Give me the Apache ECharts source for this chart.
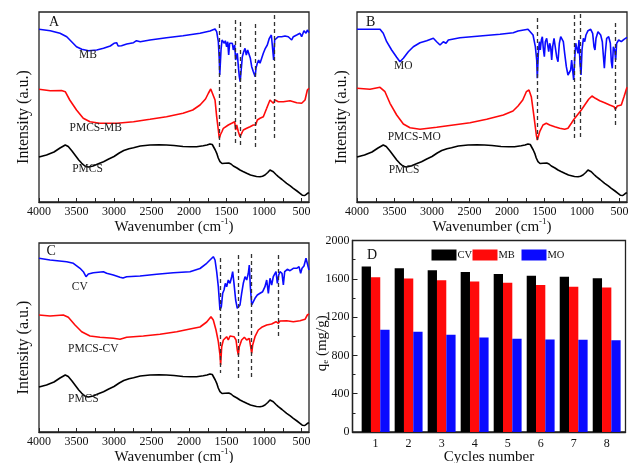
<!DOCTYPE html>
<html><head><meta charset="utf-8">
<script src="https://cdn.jsdelivr.net/npm/echarts@6/dist/echarts.min.js"></script>
<style>html,body{margin:0;padding:0;background:#fff}#c{width:629px;height:463px}</style>
</head><body><div id="c"></div>
<script>
// ---------- DATA ----------
const xLabelValues = [500, 1000, 1500, 2000, 2500, 3000, 3500, 4000];
const xTickValues = [500, 750, 1000, 1250, 1500, 1750, 2000, 2250, 2500, 2750, 3000, 3250, 3500, 3750, 4000];

const PMCS = [[4000,45],[3900,47],[3800,50],[3720,54],[3650,57],[3610,55.5],[3560,51],[3520,47],[3470,42],[3430,38.7],[3380,35.5],[3340,35],[3280,36],[3200,38.5],[3140,40.3],[3070,43],[3000,45.5],[2930,49],[2870,51.5],[2800,53.3],[2740,54.3],[2650,56],[2520,57],[2400,57.2],[2300,57],[2200,56.5],[2080,55.5],[1980,55.2],[1900,55.3],[1810,56.3],[1760,57],[1720,58],[1690,57.5],[1670,56],[1650,52],[1630,48.7],[1610,44],[1587,40.3],[1560,38.5],[1542,38],[1520,38.8],[1498,39.3],[1470,39],[1440,38],[1409,36],[1360,34],[1320,32],[1280,30.5],[1231,28.7],[1180,27],[1142,26.3],[1100,25.5],[1053,25.3],[1020,25.8],[987,27],[950,29.5],[920,32],[895,31.5],[876,30.3],[840,27.5],[809,25.3],[760,22.5],[698,18.7],[650,16.2],[609,13.7],[560,11],[520,8.7],[490,6.8],[476,6],[455,6.5],[440,8],[420,8.7],[400,9.3]];

const MB = [[4000,172.7],[3850,171.3],[3720,168.7],[3630,165.3],[3565,160.3],[3500,155.3],[3430,152.7],[3340,151.3],[3230,152],[3140,153.7],[3050,156],[3000,158.7],[2965,159.3],[2945,156],[2933,155.3],[2900,156.3],[2830,158],[2740,159.3],[2700,161.3],[2680,160],[2650,160.3],[2520,162],[2300,164.3],[2080,166.3],[1853,168.7],[1720,171],[1653,173],[1631,170.3],[1609,160.3],[1596,142],[1590,127],[1573,152],[1560,162],[1542,163.7],[1529,158.7],[1516,161.3],[1498,155.3],[1484,160.3],[1471,147],[1458,158.7],[1440,157],[1422,158.7],[1409,152],[1391,157],[1378,142],[1356,148.7],[1342,135.3],[1329,125.3],[1318,120.3],[1302,133.7],[1289,145.3],[1271,150.3],[1253,153.7],[1236,147],[1218,152],[1200,152.7],[1182,143.7],[1164,135.3],[1142,130.3],[1118,125.3],[1107,133.7],[1089,138.7],[1071,142],[1053,138.7],[1031,143.7],[1009,148.7],[982,153.7],[956,157],[929,163.7],[902,167],[884,168.7],[871,142],[858,162],[840,163.7],[809,165.3],[764,165.3],[720,166],[676,165.3],[653,167],[631,162],[609,165.3],[564,167],[520,168.7],[498,165.3],[467,171.3],[440,168.7],[422,172],[400,169.3]];

const PMCS_MB = [[4000,112.7],[3850,111.3],[3700,111.5],[3650,110.3],[3590,102],[3500,92],[3410,83.7],[3320,80.3],[3190,78.7],[2960,78.7],[2740,80.3],[2520,82.7],[2300,85.3],[2080,88.7],[1950,92],[1853,97],[1780,103],[1740,109],[1710,113],[1684,112],[1653,102],[1631,85.3],[1609,72],[1596,63.7],[1580,67.5],[1560,70.5],[1542,73.7],[1520,75.3],[1476,77],[1431,78.7],[1409,80.3],[1391,80.3],[1378,72],[1364,77],[1342,70.3],[1320,65.3],[1298,68.7],[1276,72],[1231,73.7],[1187,75.3],[1142,77],[1111,77],[1089,82],[1053,83.7],[1009,85.3],[964,93.7],[920,102],[898,102.7],[876,98.7],[853,102],[809,100.3],[742,100.3],[653,101.3],[564,99.3],[498,98.7],[453,102],[422,112],[400,113.7]];

const MO = [[4000,172.7],[3693,172.7],[3650,168.7],[3604,160.3],[3538,152],[3471,144.7],[3427,140.3],[3382,143.7],[3316,150.3],[3249,155.3],[3160,159.3],[3071,161.3],[2982,163.7],[2938,160.3],[2893,157],[2849,160.3],[2813,158.7],[2782,162],[2627,164.3],[2360,166],[2093,167.7],[1916,169.3],[1853,171],[1720,172.7],[1698,172.7],[1653,167],[1622,155.3],[1604,142],[1596,123.7],[1582,148.7],[1569,160.3],[1556,152],[1542,162],[1529,165.3],[1516,153.7],[1502,145.3],[1489,160.3],[1471,163.7],[1458,157],[1444,150.3],[1431,158.7],[1418,155.3],[1404,142],[1391,155.3],[1373,163.7],[1356,162],[1338,145.3],[1320,140.3],[1302,158.7],[1284,165.3],[1267,166],[1249,160.3],[1231,148.7],[1209,135.3],[1187,127],[1164,125.3],[1151,132],[1138,142],[1125,132],[1111,122],[1098,142],[1084,158.7],[1071,160.3],[1053,148.7],[1040,162],[1027,138.7],[1013,127],[1000,152],[982,163.7],[964,160.3],[947,167],[920,171.3],[884,172.7],[858,168.7],[840,155.3],[827,152],[813,163.7],[787,170.3],[751,167],[729,160.3],[716,147],[702,133.7],[689,148.7],[671,163.7],[644,165.3],[622,158.7],[609,140.3],[596,133.7],[582,155.3],[564,152],[551,142],[538,158.7],[511,162],[476,160.3],[440,162.7],[400,164.7]];

const PMCS_MO = [[4000,113.7],[3827,112.7],[3693,114.7],[3627,110.3],[3560,98.7],[3471,87],[3382,78],[3293,74.3],[3160,72.7],[2938,74.7],[2716,77],[2493,79.3],[2271,82.7],[2049,87],[1920,91],[1853,96],[1790,102],[1742,110.3],[1707,112],[1676,105.3],[1640,85.3],[1609,67],[1596,62],[1564,70.3],[1520,77],[1476,78.7],[1431,77],[1364,75.3],[1298,73.7],[1231,72.7],[1187,73.7],[1142,78.7],[1107,82.7],[1062,87],[1009,92],[964,97],[911,102.7],[867,106],[822,103.7],[764,101.3],[698,99.3],[631,97],[573,95.3],[556,92.7],[529,96],[476,97],[440,105.3],[400,114.7]];

const CV = [[4000,173.7],[3853,172],[3631,170.3],[3542,168.7],[3453,163.7],[3409,160.3],[3373,155.3],[3342,158],[3276,159.3],[3142,160.3],[3098,158.7],[3009,157],[2920,154.7],[2900,156],[2880,154],[2831,155.3],[2653,156],[2431,157.7],[2209,159.3],[1987,160.3],[1853,163.5],[1764,168.7],[1720,172],[1698,173.7],[1676,175.3],[1653,172],[1631,160.3],[1609,145.3],[1587,122],[1569,125.3],[1551,138.7],[1533,142],[1516,148.7],[1498,145.3],[1476,152],[1453,148.7],[1431,155.3],[1418,160.3],[1400,148.7],[1378,132],[1356,123.7],[1338,122],[1320,127],[1298,138.7],[1276,148.7],[1253,155.3],[1231,152],[1209,158.7],[1196,167],[1182,145.3],[1164,127],[1142,128.7],[1120,133.7],[1089,137],[1053,138.7],[1018,140.3],[987,145.3],[964,152],[942,138.7],[920,153.7],[898,147],[876,155.3],[840,160.3],[822,148.7],[804,157],[787,160.3],[760,158.7],[742,147],[724,160.3],[689,162.7],[653,161.3],[609,163.7],[564,163.7],[533,165.3],[511,158.7],[493,163.7],[467,166],[440,173.7],[422,175.3],[400,162]];

const PMCS_CV = [[4000,117],[3853,116],[3676,117],[3609,114.7],[3520,107],[3431,100.3],[3320,96],[3187,94.7],[3009,93.7],[2920,92.7],[2831,94.7],[2609,96],[2387,97.7],[2164,100.3],[1987,103],[1853,105],[1764,110],[1707,115.3],[1676,112],[1640,102],[1609,90.3],[1587,77],[1578,67],[1564,85.3],[1542,92],[1520,90.3],[1498,95.3],[1476,92],[1453,96],[1427,97],[1400,95.3],[1373,92],[1356,82],[1342,77],[1329,85.3],[1298,92],[1262,94.7],[1231,92],[1196,93.7],[1178,85.3],[1164,78.7],[1151,87],[1120,95.3],[1076,102],[1031,104.7],[964,107],[898,108],[840,110.3],[809,108.7],[787,111],[698,111.3],[609,110.3],[520,111.3],[453,112.7],[422,117],[400,118]];

// dashed marker lines: [wavenumber, upper intensity, lower intensity]
const DASH_A = [[1593,178,55],[1378,182,59],[1320,180,57],[1111,178,54],[867,187,64]];
const DASH_B = [[1596,184,62],[1107,187,64],[1018,188,65],[558,179,74]];
const DASH_C = [[1583,174,59],[1347,177,54],[1164,178,55],[809,177,95]];

// bar chart D
const cycles = [1, 2, 3, 4, 5, 6, 7, 8];
const qCV = [1729, 1711, 1690, 1670, 1649, 1631, 1621, 1607];
const qMB = [1617, 1603, 1586, 1572, 1558, 1534, 1517, 1510];
const qMO = [1068, 1047, 1016, 988, 974, 967, 964, 957];

// ---------- STYLE / LAYOUT ----------
const FF = "'Liberation Serif', 'Times New Roman', serif";
const TXT = '#111';
const BLUE = '#0a0aff', RED = '#ff0a0a', BLACK = '#000';
const plain = v => String(v);
const grids = [
  {left: 39, top: 12, width: 270, height: 190},
  {left: 357, top: 12, width: 270, height: 190},
  {left: 39, top: 243, width: 270, height: 189},
  {left: 352.5, top: 240.5, width: 273, height: 191.5}
].map(g => Object.assign(g, {show: true, borderColor: '#222', borderWidth: 1.3, backgroundColor: 'transparent',
  containLabel: false, outerBoundsMode: 'none'}));

const xTitle = {
  name: '{t|Wavenumber (cm}{s|-1}{t|)}',
  nameLocation: 'middle', nameGap: 15.5, nameMoveOverlap: false,
  nameTextStyle: {color: TXT, fontFamily: FF, fontSize: 15,
    rich: {t: {fontSize: 15, fontFamily: FF, color: TXT}, s: {fontSize: 9, fontFamily: FF, color: TXT, padding: [0, 0, 10, 0]}}}
};
function specX(i) {
  return Object.assign({
    type: 'value', gridIndex: i, min: 400, max: 4000, inverse: true,
    axisLine: {show: true, lineStyle: {color: '#222', width: 1.3}},
    axisTick: {show: true, inside: true, length: 4, customValues: xTickValues, lineStyle: {color: '#222', width: 1}},
    axisLabel: {customValues: xLabelValues, formatter: plain, margin: 4, fontSize: 12, fontFamily: FF, color: TXT},
    splitLine: {show: false}
  }, xTitle);
}
function specY(i, max) {
  return {
    type: 'value', gridIndex: i, min: 0, max: max,
    axisLine: {show: false}, axisTick: {show: false}, axisLabel: {show: false}, splitLine: {show: false},
    name: 'Intensity (a.u.)', nameLocation: 'middle', nameGap: 7, nameMoveOverlap: false,
    nameTextStyle: {color: TXT, fontFamily: FF, fontSize: 16, padding: [0, 20, 0, 0]}
  };
}
function line(i, data, color, label, coord) {
  return {
    type: 'line', xAxisIndex: i, yAxisIndex: i, data: data, showSymbol: false, symbol: 'none',
    lineStyle: {color: color, width: 1.6}, itemStyle: {color: color}, silent: true, z: 3,
    markPoint: {symbol: 'circle', symbolSize: 0, silent: true, animation: false,
      itemStyle: {color: 'transparent'},
      label: {show: true, position: 'inside', formatter: label, fontFamily: FF, fontSize: 11.5, color: '#222'},
      data: [{coord: coord}]}
  };
}
function dashes(i, list) {
  return {
    type: 'line', xAxisIndex: i, yAxisIndex: i, data: [], silent: true, z: 4,
    markLine: {silent: true, symbol: ['none', 'none'], animation: false, label: {show: false},
      lineStyle: {type: [4, 3], color: '#333', width: 1.3},
      data: list.map(d => [{coord: [d[0], d[1]]}, {coord: [d[0], d[2]]}])}
  };
}
function bar(name, vals, color) {
  return {type: 'bar', name: name, xAxisIndex: 3, yAxisIndex: 3, barWidth: 9.3, barGap: '0%',
    data: cycles.map((c, k) => [c, vals[k]]), itemStyle: {color: color}, silent: true};
}
function legend(name, left) {
  return {data: [name], left: left, top: 249.5, padding: 0, icon: 'rect', itemWidth: 25, itemHeight: 11,
    textStyle: {fontFamily: FF, fontSize: 10.5, color: TXT, padding: [0, 0, 0, -4]}, selectedMode: false};
}
function letter(t, left, top) {
  return {type: 'text', left: left, top: top, style: {text: t, fontFamily: FF, fontSize: 14, fill: TXT}};
}

const option = {
  animation: false,
  backgroundColor: '#fff',
  grid: grids,
  xAxis: [specX(0), specX(1), specX(2), {
    type: 'value', gridIndex: 3, min: 0.3, max: 8.57,
    axisLine: {show: true, lineStyle: {color: '#222', width: 1.3}},
    axisTick: {show: true, inside: true, length: 4, customValues: cycles, lineStyle: {color: '#222'}},
    axisLabel: {customValues: cycles, formatter: plain, margin: 6, fontSize: 12, fontFamily: FF, color: TXT},
    splitLine: {show: false},
    name: 'Cycles number', nameLocation: 'middle', nameGap: 18, nameMoveOverlap: false,
    nameTextStyle: {color: TXT, fontFamily: FF, fontSize: 15}
  }],
  yAxis: [specY(0, 190), specY(1, 190), specY(2, 189), {
    type: 'value', gridIndex: 3, min: 0, max: 2000, interval: 400,
    axisLine: {show: true, lineStyle: {color: '#222', width: 1.3}},
    axisTick: {show: true, inside: true, length: 5, lineStyle: {color: '#222'}},
    minorTick: {show: true, splitNumber: 2, length: 3, lineStyle: {color: '#222'}},
    axisLabel: {formatter: plain, margin: 3, fontSize: 12, fontFamily: FF, color: TXT},
    splitLine: {show: false},
    name: '{t|q}{s|e}{t| (mg/g)}', nameLocation: 'middle', nameGap: 22, nameMoveOverlap: false,
    nameTextStyle: {color: TXT, fontFamily: FF, fontSize: 15, padding: [0, 14, 0, 0],
      rich: {t: {fontSize: 15, fontFamily: FF, color: TXT}, s: {fontSize: 9, fontFamily: FF, color: TXT, padding: [8, 0, 0, 0]}}}
  }],
  legend: [legend('CV', 431.5), legend('MB', 472.5), legend('MO', 521.5)],
  graphic: [letter('A', 49, 15), letter('B', 366, 15), letter('C', 46.5, 244), letter('D', 367, 248)],
  series: [
    line(0, MB, BLUE, 'MB', [3347, 147]),
    line(0, PMCS_MB, RED, 'PMCS-MB', [3243, 74.5]),
    line(0, PMCS, BLACK, 'PMCS', [3353, 33.5]),
    dashes(0, DASH_A),
    line(1, MO, BLUE, 'MO', [3383, 136]),
    line(1, PMCS_MO, RED, 'PMCS-MO', [3237, 65]),
    line(1, PMCS, BLACK, 'PMCS', [3373, 32.5]),
    dashes(1, DASH_B),
    line(2, CV, BLUE, 'CV', [3457, 145.5]),
    line(2, PMCS_CV, RED, 'PMCS-CV', [3276, 83]),
    line(2, PMCS, BLACK, 'PMCS', [3409, 33.5]),
    dashes(2, DASH_C),
    bar('CV', qCV, BLACK),
    bar('MB', qMB, RED),
    bar('MO', qMO, BLUE)
  ]
};
const chart = echarts.init(document.getElementById('c'), null, {renderer: 'canvas'});
chart.setOption(option);
</script>
</body></html>
